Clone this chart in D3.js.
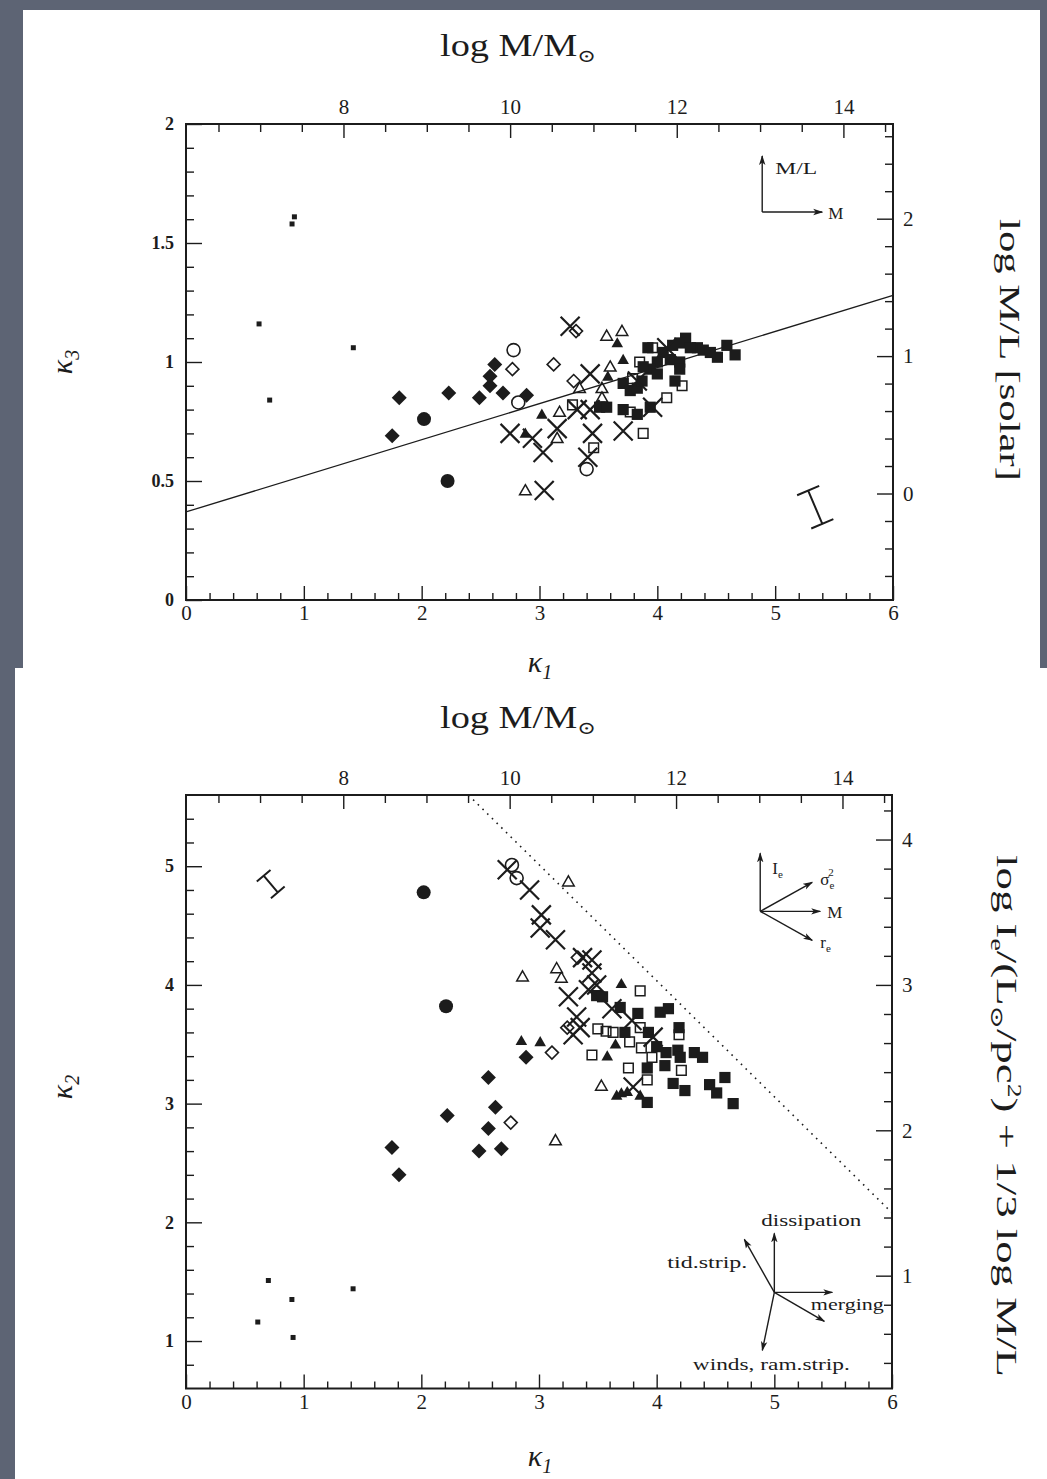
<!DOCTYPE html>
<html>
<head>
<meta charset="utf-8">
<script src="https://cdn.jsdelivr.net/npm/d3@7"></script>
<style>
  body { margin: 0; background: #5d6474; }
  svg { display: block; }
  text { font-family: "Liberation Serif", "DejaVu Serif", serif; fill: #1c1c1c; }
</style>
</head>
<body>
<svg id="chart" width="1047" height="1479"></svg>
<script>
// ---------- Data: upper panel (kappa1, kappa3) ----------
const topDots = [[0.92,1.61],[0.90,1.58],[0.62,1.16],[1.42,1.06],[0.71,0.84]];
const topBigCircles = [[2.02,0.76],[2.22,0.50]];
const topFilledDiamonds = [[1.75,0.69],[1.81,0.85],[2.23,0.87],[2.49,0.85],[2.58,0.90],[2.58,0.94],[2.62,0.99],[2.69,0.87],[2.89,0.86]];
const topOpenCircles = [[2.78,1.05],[2.82,0.83],[3.40,0.55]];
const topOpenDiamonds = [[2.77,0.97],[3.12,0.99],[3.31,1.13],[3.29,0.92]];
const topOpenTriangles = [[3.57,1.11],[3.70,1.13],[3.60,0.98],[3.34,0.89],[3.53,0.89],[3.53,0.85],[3.17,0.79],[3.15,0.68],[2.88,0.46]];
const topFilledTriangles = [[3.66,1.08],[3.71,1.01],[3.58,0.94],[3.02,0.78],[2.88,0.70]];
const topCrosses = [[3.26,1.15],[3.43,0.95],[4.08,1.06],[3.96,0.81],[3.32,0.80],[3.43,0.80],[2.75,0.70],[2.94,0.68],[3.15,0.72],[3.45,0.70],[3.71,0.71],[3.03,0.62],[3.41,0.60],[3.04,0.46],[3.83,0.92]];
const topFilledSquares = [[3.92,1.06],[4.24,1.10],[4.19,1.08],[4.34,1.06],[4.39,1.05],[4.51,1.02],[4.59,1.07],[4.66,1.03],[4.45,1.04],[4.05,1.04],[4.11,1.01],[4.19,1.00],[4.19,0.97],[4.00,1.00],[3.94,0.97],[4.00,0.95],[3.88,0.98],[3.71,0.91],[3.77,0.88],[3.83,0.89],[3.87,0.92],[4.15,0.92],[3.94,0.81],[3.51,0.81],[3.57,0.81],[3.71,0.80],[3.83,0.78],[4.28,1.06],[4.13,1.07]];
const topOpenSquares = [[3.96,1.06],[3.85,1.00],[3.79,0.93],[4.21,0.90],[4.08,0.85],[3.28,0.82],[3.77,0.79],[3.88,0.70],[3.46,0.64]];
const topFit = [[0,0.37],[6,1.28]];
const topErrorBar = [[5.28,0.46],[5.40,0.32]];

// ---------- Data: lower panel (kappa1, kappa2) ----------
const botDots = [[0.70,1.51],[0.90,1.35],[0.61,1.16],[0.91,1.03],[1.42,1.44]];
const botBigCircles = [[2.02,4.78],[2.21,3.82]];
const botFilledDiamonds = [[1.75,2.63],[1.81,2.40],[2.22,2.90],[2.63,2.97],[2.57,2.79],[2.57,3.22],[2.49,2.60],[2.68,2.62],[2.89,3.39]];
const botOpenDiamonds = [[2.76,2.84],[3.11,3.43],[3.24,3.64],[3.33,4.23]];
const botFilledTriangles = [[2.85,3.53],[3.01,3.52],[3.58,3.40],[3.65,3.50],[3.70,4.01],[3.66,3.07],[3.70,3.09],[3.75,3.10],[3.86,3.07]];
const botOpenTriangles = [[3.25,4.87],[2.86,4.07],[3.15,4.14],[3.19,4.06],[3.53,3.15],[3.14,2.69]];
const botOpenCircles = [[2.77,5.01],[2.81,4.90]];
const botCrosses = [[2.73,4.97],[2.92,4.80],[3.02,4.59],[3.01,4.48],[3.14,4.38],[3.37,4.23],[3.45,4.21],[3.45,4.10],[3.42,3.96],[3.49,4.00],[3.25,3.90],[3.62,3.80],[3.32,3.73],[3.35,3.64],[3.29,3.58],[3.79,3.70],[3.97,3.56],[3.80,3.14]];
const botFilledSquares = [[3.49,3.91],[3.54,3.90],[3.69,3.81],[3.84,3.76],[4.03,3.77],[4.10,3.80],[3.73,3.60],[3.93,3.60],[4.19,3.64],[4.00,3.48],[4.08,3.43],[4.18,3.45],[4.20,3.39],[4.32,3.43],[4.39,3.39],[3.92,3.30],[4.07,3.32],[3.92,3.01],[4.14,3.17],[4.24,3.11],[4.45,3.16],[4.51,3.09],[4.58,3.22],[4.65,3.00]];
const botOpenSquares = [[3.86,3.95],[3.50,3.63],[3.57,3.61],[3.63,3.60],[3.86,3.64],[4.19,3.58],[3.77,3.52],[3.87,3.47],[3.45,3.41],[3.96,3.39],[3.76,3.30],[4.21,3.28],[3.92,3.20]];
const botLimit = [[2.4,5.6],[6,2.08]];
const botErrorBar = [[0.66,4.92],[0.78,4.78]];

// axis relations
const massOffset = 6.11;           // log M = sqrt(2) k1 + offset
const mlOffset = 0.775;            // log M/L = sqrt(3) k3 - offset
const ieSlope = Math.sqrt(2 / 3), ieOffset = 0.266;

const svg = d3.select("#chart");
const ink = "#1c1c1c";

// background + paper panels
svg.append("rect").attr("width", 1047).attr("height", 1479).attr("fill", "#5d6474");
svg.append("rect").attr("x", 23).attr("y", 10).attr("width", 1017).attr("height", 658).attr("fill", "#fff");
svg.append("rect").attr("x", 15).attr("y", 668).attr("width", 1032).attr("height", 811).attr("fill", "#fff");

const defs = svg.append("defs");
defs.append("marker").attr("id", "arrow").attr("viewBox", "0 -4 10 8")
  .attr("refX", 9).attr("refY", 0).attr("markerWidth", 10).attr("markerHeight", 8)
  .attr("markerUnits", "userSpaceOnUse").attr("orient", "auto")
  .append("path").attr("d", "M0,-3.2L10,0L0,3.2L2.5,0Z").attr("fill", ink);

// marker shapes for d3.symbol (size = half width in px)
const shapes = {
  square: { draw(c, r) { c.rect(-r, -r, 2 * r, 2 * r); } },
  circle: { draw(c, r) { c.moveTo(r, 0); c.arc(0, 0, r, 0, 2 * Math.PI); } },
  diamond: { draw(c, r) { c.moveTo(0, -r); c.lineTo(r, 0); c.lineTo(0, r); c.lineTo(-r, 0); c.closePath(); } },
  triangle: { draw(c, r) { c.moveTo(0, -r); c.lineTo(r, r * 0.75); c.lineTo(-r, r * 0.75); c.closePath(); } },
  cross: { draw(c, r) { c.moveTo(-r, -r); c.lineTo(r, r); c.moveTo(-r, r); c.lineTo(r, -r); } }
};
const styles = {
  dot:       { shape: "square",   r: 2.5, fill: ink },
  bigCircle: { shape: "circle",   r: 7,   fill: ink },
  fDiamond:  { shape: "diamond",  r: 7.5, fill: ink },
  oDiamond:  { shape: "diamond",  r: 6.5, fill: "none", sw: 1.6 },
  oCircle:   { shape: "circle",   r: 6.5, fill: "none", sw: 1.6 },
  oTriangle: { shape: "triangle", r: 5.8, fill: "none", sw: 1.5 },
  fTriangle: { shape: "triangle", r: 5.8, fill: ink },
  fSquare:   { shape: "square",   r: 5.6, fill: ink },
  oSquare:   { shape: "square",   r: 4.8, fill: "none", sw: 1.5 },
  cross:     { shape: "cross",    r: 9.5, fill: "none", sw: 2.2 }
};

function drawPoints(g, data, style, x, y) {
  const s = styles[style];
  const sym = d3.symbol().type(shapes[s.shape]).size(s.r);
  g.selectAll(null).data(data).enter().append("path")
    .attr("transform", d => `translate(${x(d[0])},${y(d[1])})`)
    .attr("d", sym)
    .attr("fill", s.fill)
    .attr("stroke", s.sw ? ink : "none")
    .attr("stroke-width", s.sw || 0);
}

function ticks(orient, scale, pos, values, len, opts = {}) {
  const gen = { left: d3.axisLeft, right: d3.axisRight, top: d3.axisTop, bottom: d3.axisBottom }[orient];
  const ax = gen(scale).tickValues(values).tickSizeInner(-len).tickSizeOuter(0)
    .tickPadding(opts.pad || 6).tickFormat(opts.format || (() => ""));
  const vertical = orient === "left" || orient === "right";
  const g = svg.append("g")
    .attr("transform", vertical ? `translate(${pos},0)` : `translate(0,${pos})`)
    .attr("color", ink).call(ax);
  g.select(".domain").remove();
  g.selectAll("line").attr("stroke-width", opts.sw || 1.4);
  g.selectAll("text")
    .attr("font-family", opts.family || '"Liberation Serif", serif')
    .attr("font-size", opts.size || 21)
    .attr("font-weight", opts.weight || "normal");
  return g;
}
const steps = (a, b, s) => d3.range(a, b + s / 2, s).map(v => +v.toFixed(2));
const sansTick = { family: '"Liberation Sans", sans-serif', size: 18, weight: "bold", pad: 12 };

function errorBar(ends, x, y, cap) {
  const p = ends.map(d => [x(d[0]), y(d[1])]);
  const dx = p[1][0] - p[0][0], dy = p[1][1] - p[0][1], L = Math.hypot(dx, dy);
  const nx = -dy / L * cap, ny = dx / L * cap;
  const path = d3.path();
  path.moveTo(p[0][0], p[0][1]); path.lineTo(p[1][0], p[1][1]);
  p.forEach(q => { path.moveTo(q[0] - nx, q[1] - ny); path.lineTo(q[0] + nx, q[1] + ny); });
  svg.append("path").attr("d", path.toString()).attr("stroke", ink).attr("stroke-width", 2).attr("fill", "none");
}

function arrowFan(origin, vectors) {
  vectors.forEach(v => {
    svg.append("line").attr("x1", origin[0]).attr("y1", origin[1])
      .attr("x2", origin[0] + v[0]).attr("y2", origin[1] + v[1])
      .attr("stroke", ink).attr("stroke-width", 1.4).attr("marker-end", "url(#arrow)");
  });
}

function label(x, y, parts, opts = {}) {
  const t = svg.append("text").attr("x", x).attr("y", y)
    .attr("font-size", opts.size || 30)
    .attr("text-anchor", opts.anchor || "middle");
  if (opts.rotate) t.attr("transform", `rotate(${opts.rotate},${x},${y})`);
  if (opts.italic) t.attr("font-style", "italic");
  if (opts.length) t.attr("textLength", opts.length).attr("lengthAdjust", "spacingAndGlyphs");
  parts.forEach(p => {
    const s = typeof p === "string" ? { t: p } : p;
    const ts = t.append("tspan").text(s.t);
    if (s.size) ts.attr("font-size", s.size);
    if (s.dy) ts.attr("dy", s.dy);
    if (s.italic) ts.attr("font-style", "italic");
    if (s.dx) ts.attr("dx", s.dx);
  });
  return t;
}

// ================= Upper panel =================
const k1T = d3.scaleLinear().domain([0, 6]).range([186, 893]);
const k3T = d3.scaleLinear().domain([0, 2]).range([600, 124]);
const massT = d3.scaleLinear().domain([massOffset, massOffset + 6 * Math.SQRT2]).range([186, 893]);
const mlT = d3.scaleLinear().domain([-mlOffset, 2 * Math.sqrt(3) - mlOffset]).range([600, 124]);

svg.append("rect").attr("x", k1T(0)).attr("y", k3T(2))
  .attr("width", k1T(6) - k1T(0)).attr("height", k3T(0) - k3T(2))
  .attr("fill", "none").attr("stroke", ink).attr("stroke-width", 2);

ticks("bottom", k1T, k3T(0), steps(0, 6, 0.2).filter(v => v % 1 !== 0), 7);
ticks("bottom", k1T, k3T(0), steps(0, 6, 1), 14, { format: d3.format("d"), pad: 5 });
ticks("left", k3T, k1T(0), steps(0, 2, 0.1).filter(v => Math.round(v * 10) % 5 !== 0), 8);
ticks("left", k3T, k1T(0), steps(0, 2, 0.5), 16, { ...sansTick, format: d => d === 0 ? "0" : d3.format("~g")(d) });
ticks("top", massT, k3T(2), steps(6.5, 14.5, 0.5).filter(v => v % 2 !== 0), 8);
ticks("top", massT, k3T(2), [8, 10, 12, 14], 14, { format: d3.format("d"), pad: 10 });
ticks("right", mlT, k1T(6), steps(-0.6, 2.6, 0.2).filter(v => v % 1 !== 0), 8);
ticks("right", mlT, k1T(6), [0, 1, 2], 16, { format: d3.format("d"), pad: 10 });

const gTop = svg.append("g");
gTop.append("path").datum(topFit)
  .attr("d", d3.line().x(d => k1T(d[0])).y(d => k3T(d[1])))
  .attr("stroke", ink).attr("stroke-width", 1.3).attr("fill", "none");
drawPoints(gTop, topDots, "dot", k1T, k3T);
drawPoints(gTop, topOpenCircles, "oCircle", k1T, k3T);
drawPoints(gTop, topOpenDiamonds, "oDiamond", k1T, k3T);
drawPoints(gTop, topOpenTriangles, "oTriangle", k1T, k3T);
drawPoints(gTop, topOpenSquares, "oSquare", k1T, k3T);
drawPoints(gTop, topBigCircles, "bigCircle", k1T, k3T);
drawPoints(gTop, topFilledDiamonds, "fDiamond", k1T, k3T);
drawPoints(gTop, topFilledTriangles, "fTriangle", k1T, k3T);
drawPoints(gTop, topFilledSquares, "fSquare", k1T, k3T);
drawPoints(gTop, topCrosses, "cross", k1T, k3T);
errorBar(topErrorBar, k1T, k3T, 12);

// M/L vs M inset
const insetT = [k1T(4.89), k3T(1.63)];
arrowFan(insetT, [[0, -56], [60, 0]]);
label(insetT[0] + 13, insetT[1] - 38, ["M/L"], { size: 17, anchor: "start", length: 42 });
label(insetT[0] + 66, insetT[1] + 7, ["M"], { size: 17, anchor: "start" });

// titles upper
label(518, 56, ["log M/M", { t: "\u2299", size: 18, dy: 6 }], { size: 31, length: 156 });
label(540, 672, ["\u03BA", { t: "1", size: 20, dy: 7 }], { size: 30, italic: true });
label(72, 362, ["\u03BA", { t: "3", size: 20, dy: 7 }], { size: 30, italic: true, rotate: -90 });
label(1000, 350, ["log M/L [solar]"], { size: 29, rotate: 90, length: 262 });

// ================= Lower panel =================
const k1B = d3.scaleLinear().domain([0, 6]).range([186, 892]);
const k2B = d3.scaleLinear().domain([0.6, 5.6]).range([1388.5, 795]);
const massB = d3.scaleLinear().domain([massOffset, massOffset + 6 * Math.SQRT2]).range([186, 892]);
const ieB = d3.scaleLinear().domain([0.6 * ieSlope - ieOffset, 5.6 * ieSlope - ieOffset]).range([1388.5, 795]);

svg.append("rect").attr("x", k1B(0)).attr("y", k2B(5.6))
  .attr("width", k1B(6) - k1B(0)).attr("height", k2B(0.6) - k2B(5.6))
  .attr("fill", "none").attr("stroke", ink).attr("stroke-width", 2);

ticks("bottom", k1B, k2B(0.6), steps(0, 6, 0.2).filter(v => v % 1 !== 0), 7);
ticks("bottom", k1B, k2B(0.6), steps(0, 6, 1), 14, { format: d3.format("d"), pad: 6 });
ticks("left", k2B, k1B(0), steps(0.8, 5.4, 0.2).filter(v => v % 1 !== 0), 8);
ticks("left", k2B, k1B(0), [1, 2, 3, 4, 5], 16, { ...sansTick, format: d3.format("d") });
ticks("top", massB, k2B(5.6), steps(6.5, 14.5, 0.5).filter(v => v % 2 !== 0), 8);
ticks("top", massB, k2B(5.6), [8, 10, 12, 14], 14, { format: d3.format("d"), pad: 10 });
ticks("right", ieB, k1B(6), steps(0.4, 4.2, 0.2).filter(v => v % 1 !== 0), 8);
ticks("right", ieB, k1B(6), [1, 2, 3, 4], 16, { format: d3.format("d"), pad: 10 });

const gBot = svg.append("g");
gBot.append("path").datum(botLimit)
  .attr("d", d3.line().x(d => k1B(d[0])).y(d => k2B(d[1])))
  .attr("stroke", ink).attr("stroke-width", 1.6).attr("stroke-dasharray", "1.6 5").attr("fill", "none");
drawPoints(gBot, botDots, "dot", k1B, k2B);
drawPoints(gBot, botOpenCircles, "oCircle", k1B, k2B);
drawPoints(gBot, botOpenDiamonds, "oDiamond", k1B, k2B);
drawPoints(gBot, botOpenTriangles, "oTriangle", k1B, k2B);
drawPoints(gBot, botOpenSquares, "oSquare", k1B, k2B);
drawPoints(gBot, botBigCircles, "bigCircle", k1B, k2B);
drawPoints(gBot, botFilledDiamonds, "fDiamond", k1B, k2B);
drawPoints(gBot, botFilledTriangles, "fTriangle", k1B, k2B);
drawPoints(gBot, botFilledSquares, "fSquare", k1B, k2B);
drawPoints(gBot, botCrosses, "cross", k1B, k2B);
errorBar(botErrorBar, k1B, k2B, 9);

// observable axes inset
const insetB1 = [k1B(4.88), k2B(4.62)];
arrowFan(insetB1, [[0, -58], [52, -29], [60, 0], [52, 29]]);
label(insetB1[0] + 12, insetB1[1] - 37, ["I", { t: "e", size: 11, dy: 4 }], { size: 17, anchor: "start" });
label(insetB1[0] + 60, insetB1[1] - 26, ["\u03C3", { t: "e", size: 11, dy: 4 }, { t: "2", size: 11, dy: -13, dx: -6 }], { size: 17, anchor: "start" });
label(insetB1[0] + 67, insetB1[1] + 7, ["M"], { size: 17, anchor: "start" });
label(insetB1[0] + 60, insetB1[1] + 37, ["r", { t: "e", size: 11, dy: 4 }], { size: 17, anchor: "start" });

// physical processes inset
const insetB2 = [k1B(5.0), k2B(1.41)];
arrowFan(insetB2, [[0, -59], [-30, -53], [58, 0], [50, 29], [-12, 58]]);
label(insetB2[0] + 37, insetB2[1] - 66, ["dissipation"], { size: 17, length: 100 });
label(insetB2[0] - 27, insetB2[1] - 24, ["tid.strip."], { size: 17, anchor: "end", length: 80 });
label(insetB2[0] + 73, insetB2[1] + 18, ["merging"], { size: 17, length: 73 });
label(insetB2[0] - 3, insetB2[1] + 78, ["winds, ram.strip."], { size: 17, length: 157 });

// titles lower
label(518, 728, ["log M/M", { t: "\u2299", size: 18, dy: 6 }], { size: 31, length: 156 });
label(540, 1466, ["\u03BA", { t: "1", size: 20, dy: 7 }], { size: 30, italic: true });
label(72, 1087, ["\u03BA", { t: "2", size: 20, dy: 7 }], { size: 30, italic: true, rotate: -90 });
label(997, 1116, ["log I", { t: "e", size: 18, dy: 6 }, { t: "/(L", dy: -6 }, { t: "\u2299", size: 18, dy: 6 },
  { t: "/pc", dy: -6 }, { t: "2", size: 18, dy: -11 }, { t: ") + 1/3 log M/L", dy: 11 }],
  { size: 29, rotate: 90, length: 522 });
</script>
</body>
</html>
